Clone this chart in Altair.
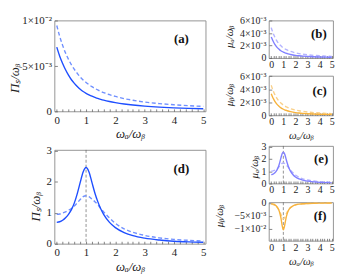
import altair as alt
import pandas as pd

# ---------------- data ----------------
X = [0, 0.1, 0.2, 0.3, 0.4, 0.5, 0.6, 0.7, 0.8, 0.9, 1.0, 1.1, 1.2, 1.3, 1.4, 1.5,
     1.6, 1.8, 2.0, 2.3, 2.6, 3.0, 3.5, 4.0, 4.5, 5.0]

# values in units of 1e-3 for panels a, b, c, f
A_SOLID = [7.1, 6.1, 5.3, 4.6, 4.0, 3.5, 3.1, 2.75, 2.45, 2.2, 2.0, 1.83, 1.68, 1.55, 1.43,
           1.33, 1.24, 1.09, 0.97, 0.82, 0.7, 0.58, 0.47, 0.39, 0.33, 0.29]
A_DASH = [9.5, 8.3, 7.3, 6.45, 5.75, 5.15, 4.65, 4.2, 3.8, 3.47, 3.2, 2.95, 2.73, 2.54, 2.37,
          2.22, 2.08, 1.85, 1.65, 1.41, 1.23, 1.03, 0.86, 0.73, 0.63, 0.55]
B_SOLID = [3.4, 2.95, 2.55, 2.2, 1.92, 1.68, 1.48, 1.31, 1.17, 1.05, 0.95, 0.87, 0.79, 0.73,
           0.67, 0.62, 0.57, 0.49, 0.43, 0.36, 0.3, 0.25, 0.2, 0.16, 0.14, 0.12]
B_DASH = [4.9, 4.3, 3.8, 3.35, 2.98, 2.66, 2.39, 2.16, 1.96, 1.79, 1.64, 1.51, 1.4, 1.3, 1.21,
          1.13, 1.06, 0.94, 0.84, 0.72, 0.62, 0.52, 0.43, 0.36, 0.31, 0.27]
C_SOLID = [3.3, 2.85, 2.47, 2.14, 1.87, 1.64, 1.45, 1.28, 1.15, 1.03, 0.93, 0.85, 0.78, 0.72,
           0.66, 0.61, 0.56, 0.48, 0.42, 0.35, 0.3, 0.25, 0.2, 0.16, 0.14, 0.12]
C_DASH = [4.6, 4.05, 3.58, 3.17, 2.83, 2.53, 2.28, 2.06, 1.87, 1.71, 1.57, 1.45, 1.34, 1.25,
          1.16, 1.09, 1.02, 0.9, 0.81, 0.7, 0.6, 0.5, 0.42, 0.35, 0.3, 0.26]
D_SOLID = [0.69, 0.71, 0.76, 0.84, 0.95, 1.1, 1.32, 1.62, 1.98, 2.32, 2.46, 2.32, 1.98, 1.64,
           1.36, 1.13, 0.95, 0.69, 0.52, 0.36, 0.26, 0.18, 0.12, 0.08, 0.06, 0.05]
D_DASH = [0.95, 0.96, 0.99, 1.03, 1.08, 1.14, 1.22, 1.32, 1.43, 1.52, 1.55, 1.52, 1.44, 1.36,
          1.26, 1.14, 1.03, 0.83, 0.66, 0.48, 0.37, 0.27, 0.19, 0.14, 0.11, 0.09]
E_SOLID = [0.72, 0.74, 0.79, 0.87, 0.99, 1.15, 1.38, 1.7, 2.08, 2.42, 2.55, 2.42, 2.08, 1.72,
           1.42, 1.17, 0.98, 0.71, 0.53, 0.37, 0.27, 0.19, 0.13, 0.09, 0.07, 0.05]
E_DASH = [1.0, 1.01, 1.04, 1.08, 1.14, 1.21, 1.3, 1.41, 1.53, 1.63, 1.66, 1.63, 1.54, 1.44,
          1.33, 1.2, 1.08, 0.87, 0.69, 0.5, 0.38, 0.28, 0.2, 0.15, 0.12, 0.1]
F_SOLID = [-0.3, -0.4, -0.55, -0.8, -1.15, -1.7, -2.5, -3.8, -5.8, -8.6, -10.3, -8.8, -6.3,
           -4.4, -3.1, -2.3, -1.8, -1.15, -0.8, -0.52, -0.37, -0.26, -0.18, -0.13, -0.1, -0.08]
F_DASH = [-0.5, -0.6, -0.75, -1.0, -1.35, -1.85, -2.5, -3.3, -4.4, -5.6, -6.2, -5.7, -4.6,
          -3.6, -2.8, -2.2, -1.8, -1.2, -0.85, -0.57, -0.4, -0.28, -0.2, -0.15, -0.11, -0.09]

VLINE = [1.0]

X_MAJOR = [0, 1, 2, 3, 4, 5]
X_MINOR = [0.2, 0.4, 0.6, 0.8, 1.2, 1.4, 1.6, 1.8, 2.2, 2.4, 2.6, 2.8, 3.2, 3.4, 3.6, 3.8,
           4.2, 4.4, 4.6, 4.8]

A_YT = [0, 5, 10]
A_YL = ["0", "5×10⁻³", "1×10⁻²"]
BC_YT = [0, 2, 4, 6]
BC_YL = ["0", "2×10⁻³", "4×10⁻³", "6×10⁻³"]
DE_YT = [0, 1, 2, 3]
DE_YL = ["0", "1", "2", "3"]
F_YT = [0, -5, -10]
F_YL = ["0", "−5×10⁻³", "−1×10⁻²"]

TAGS = ["(a)", "(b)", "(c)", "(d)", "(e)", "(f)"]
XTITLE = "ωₐ/ωᵦ"
YTITLES = ["Πₛ/ωᵦ", "μₐ/ωᵦ", "μᵦ/ωᵦ", "Πₛ/ωᵦ", "μₐ/ωᵦ", "μᵦ/ωᵦ"]

BLUE = ["#1f4fff", "#7090ff"]
LAV = ["#8080ff", "#b4b4ff"]
ORG = ["#f7b23c", "#f9d08a"]

FONT = "Liberation Serif"
XT = sorted(X_MAJOR + X_MINOR)


def label_expr(values, labels):
    expr = "''"
    for v, l in reversed(list(zip(values, labels))):
        expr = f"(abs(datum.value - ({v})) < 1e-9 ? '{l}' : {expr})"
    return expr


def panel(solid, dash, colors, w, h, xdom, ydom, yt, yl, ytitle, ytx, yty,
          xtitle, xty, tag, tagx, tagy, ext, big, xlp, vline=False, top_ext=0):
    lf = 11 if big else 10
    tf = 13 if big else 11
    xaxis_kw = dict(values=XT, labelExpr="abs(datum.value - round(datum.value)) < 0.001 ? format(datum.value, 'd') : ''",
                    labelOverlap=False,
                    tickSize={"expr": "-2.5"}, tickColor="#666", tickWidth=0.8,
                    domain=False, grid=False, labelFont=FONT, labelFontSize=lf,
                    labelColor="#222", labelPadding=xlp, labelFlush=False)
    if xtitle:
        xaxis_kw.update(title=xtitle, titleFont=FONT, titleFontSize=tf, titleFontStyle="italic",
                        titleFontWeight="normal", titleColor="#222", titleX=w / 2, titleY=xty,
                        titleBaseline="middle", titleAlign="center")
    else:
        xaxis_kw.update(title=None)
    yaxis = alt.Axis(values=yt, labelExpr=label_expr(yt, yl), tickSize={"expr": "-3"},
                     labelOverlap=False,
                     tickColor="#666", tickWidth=0.8, domain=False, grid=False,
                     labelFont=FONT, labelFontSize=lf, labelColor="#222", labelPadding=6,
                     labelFlush=False, minExtent=ext, maxExtent=ext,
                     title=ytitle, titleFont=FONT, titleFontSize=tf, titleFontStyle="italic",
                     titleFontWeight="normal", titleColor="#222", titleX=ytx, titleY=yty,
                     titleAngle=270, titleBaseline="middle", titleAlign="center")
    xs = alt.Scale(domain=xdom, nice=False, zero=False)
    ys = alt.Scale(domain=ydom, nice=False, zero=False)
    df_s = pd.DataFrame({"x": X, "y": solid})
    df_d = pd.DataFrame({"x": X, "y": dash})
    xenc = alt.X("x:Q", scale=xs, axis=alt.Axis(**xaxis_kw))
    dashed = alt.Chart(df_d).mark_line(strokeWidth=1.4, interpolate="monotone", clip=True,
                                       color=colors[1], strokeDash=[4, 2.5]).encode(
        x=xenc, y=alt.Y("y:Q", scale=ys, axis=yaxis))
    solidl = alt.Chart(df_s).mark_line(strokeWidth=1.4, interpolate="monotone", clip=True,
                                       color=colors[0]).encode(
        x=xenc, y=alt.Y("y:Q", scale=ys, axis=yaxis))
    layers = []
    if vline:
        layers.append(alt.Chart(pd.DataFrame({"x": VLINE})).mark_rule(
            strokeDash=[3, 2], color="#666", strokeWidth=0.7).encode(x=xenc))
    layers += [dashed, solidl]
    layers.append(alt.Chart(pd.DataFrame({"t": [tag]})).mark_text(
        font=FONT, fontSize=13, fontWeight="bold", color="#111", align="center",
        baseline="middle").encode(text="t:N", x=alt.value(tagx), y=alt.value(tagy)))
    ch = alt.layer(*layers)
    if top_ext:
        spacer = alt.Chart(pd.DataFrame({"x": [X[0]]})).mark_point(opacity=0).encode(
            x=alt.X("x:Q", scale=xs, axis=alt.Axis(orient="top", labels=False, ticks=False,
                                                  domain=False, grid=False, title=None,
                                                  minExtent=top_ext, maxExtent=top_ext)))
        ch = alt.layer(ch, spacer).resolve_axis(x="independent")
    return ch.properties(width=w, height=h)


BIGX = [-0.08, 5.08]
SMX = [-0.2, 5.1]

pa = panel(A_SOLID, A_DASH, BLUE, 153, 92, BIGX, [0, 10.05], A_YT, A_YL, YTITLES[0], -40, 58,
           XTITLE, 22, TAGS[0], 128.5, 18.5, 45, True, 6, top_ext=10)
pd_ = panel(D_SOLID, D_DASH, BLUE, 153, 95, BIGX, [0, 3.03], DE_YT, DE_YL, YTITLES[3], -19, 57,
            XTITLE, 23, TAGS[3], 128.5, 19, 45, True, 5, vline=True)
pb = panel(B_SOLID, B_DASH, LAV, 65, 38, SMX, [0, 6.05], BC_YT, BC_YL, YTITLES[1], -40, 16,
           None, 0, TAGS[1], 50.7, 13.5, 55, False, 4)
pc = panel(C_SOLID, C_DASH, ORG, 65, 40, SMX, [0, 6.05], BC_YT, BC_YL, YTITLES[2], -40, 19,
           XTITLE, 20, TAGS[2], 51.4, 15, 55, False, 4)
pe = panel(E_SOLID, E_DASH, LAV, 65, 38, SMX, [0, 3.05], DE_YT, DE_YL, YTITLES[4], -14, 21,
           None, 0, TAGS[4], 53, 13, 55, False, 4, vline=True)
pf = panel(F_SOLID, F_DASH, ORG, 65, 39, SMX, [-14.5, 0.2], F_YT, F_YL, YTITLES[5], -50, 13.5,
           XTITLE, 21, TAGS[5], 52, 13.7, 55, False, 4, vline=True)

left = alt.vconcat(pa, pd_, spacing=3)
right = alt.vconcat(alt.vconcat(pb, pc, spacing=0), alt.vconcat(pe, pf, spacing=2), spacing=0)
chart = alt.hconcat(left, right, spacing=6).properties(padding=0, background="white").configure_view(
    stroke="#888", strokeWidth=0.9)

chart.save("out.html", embed_options={"renderer": "svg", "actions": False})
